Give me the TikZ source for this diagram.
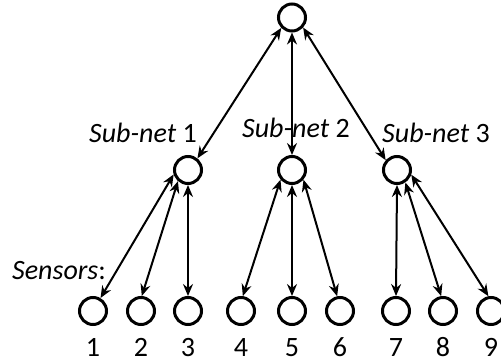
\documentclass[tikz,border=0pt]{standalone}
\usepackage{fontspec}
\setmainfont{Carlito}
\usetikzlibrary{arrows.meta}
\tikzset{
  netnode/.style={circle, draw, line width=3pt, minimum size=27pt, inner sep=0pt},
  tip/.style={Stealth[length=12pt,width=10pt,inset=4pt]},
  link/.style={line width=2pt, {Stealth[length=12pt,width=10pt,inset=4pt]}-{Stealth[length=12pt,width=10pt,inset=4pt]}},
  lbl/.style={inner sep=0pt, font=\fontsize{28pt}{32pt}\selectfont}
}
\begin{document}
\begin{tikzpicture}[x=1pt,y=-1pt]
\useasboundingbox (0,0) rectangle (501,362);
% root and sub-net heads
\node[netnode] (root) at (292,17.5) {};
\node[netnode] (n1) at (188,170) {};
\node[netnode] (n2) at (292,170) {};
\node[netnode] (n3) at (397,170) {};
% sensors
\foreach \i/\x in {1/93,2/141,3/188,4/241,5/292,6/340,7/396,8/443,9/491}{
  \node[netnode] (s\i) at (\x,311) {};
  \node[lbl, anchor=base] (t\i) at (\x,356) {\i};
}
% labels
\node[lbl, anchor=base west] (l1) at (89,142) {\textit{Sub-net} 1};
\node[lbl, anchor=base west] (l2) at (242,137) {\textit{Sub-net} 2};
\node[lbl, anchor=base west] (l3) at (382,142) {\textit{Sub-net} 3};
\node[lbl, anchor=base west] (ls) at (12,279) {\textit{Sensors}:};
% root links
\draw[link] (root.224) -- (n1.51);
\draw[link] (root.270) -- (n2.90);
\draw[link] (root.318) -- (n3.139);
% sub-net 1
\draw[link] (n1.197) -- (s1.60);
\draw[link] (n1.228) -- (s2.87);
\draw[link] (n1.270) -- (s3.90);
% sub-net 2
\draw[link] (n2.220) -- (s4.83);
\draw[link] (n2.270) -- (s5.90);
\draw[link] (n2.320) -- (s6.101);
% sub-net 3
\draw[link] (n3.270) -- (s7.90);
\draw[link] (n3.304) -- (s8.97);
\draw[link] (n3.342) -- (s9.100);
\end{tikzpicture}
\end{document}
